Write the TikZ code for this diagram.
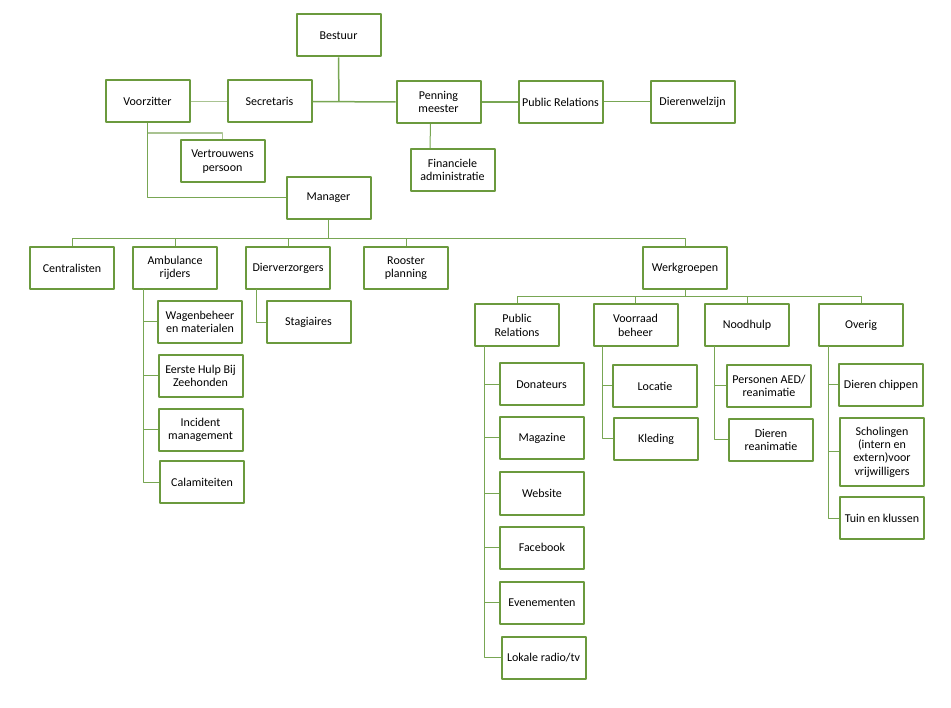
\documentclass[tikz,border=0pt]{standalone}
\usepackage{fontspec}
\setmainfont{Carlito}
\definecolor{boxgreen}{HTML}{6B9A3E}
\definecolor{linegreen}{HTML}{78A653}
\definecolor{palegreen}{HTML}{A9C391}
\begin{document}
\begin{tikzpicture}[x=1pt,y=-1pt,line join=round,font=\fontsize{12}{13.3}\selectfont,
	unit/.style={draw=boxgreen,line width=2pt,fill=white,minimum width=84pt,minimum height=42pt,align=center,inner sep=1pt},
	link/.style={draw=linegreen,line width=1pt},
	palelink/.style={draw=palegreen,line width=1.2pt},
	boldlink/.style={draw=linegreen,line width=1.5pt}]
			\useasboundingbox (0,0) rectangle (951,708);
			\node[unit] (bestuur) at (338.5,35.5) {Bestuur};
			\node[unit] (voorz) at (147.5,101.5) {Voorzitter};
			\node[unit] (secr) at (269.5,101.5) {Secretaris};
			\node[unit] (penning) at (438.5,102) {Penning\\meester};
			\node[unit] (prtop) at (560.5,102) {Public Relations};
			\node[unit] (dierenw) at (692.5,102) {Dierenwelzijn};
			\node[unit] (vertr) at (222.5,161.5) {Vertrouwens\\persoon};
			\node[unit] (finadm) at (452.5,170) {Financiele\\administratie};
			\node[unit] (manager) at (328.5,198) {Manager};
			\node[unit] (centr) at (72,268) {Centralisten};
			\node[unit] (ambu) at (175,268) {Ambulance\\rijders};
			\node[unit] (dierv) at (288,268) {Dierverzorgers};
			\node[unit] (rooster) at (406,268) {Rooster\\planning};
			\node[unit] (werkg) at (685,268.5) {Werkgroepen};
			\node[unit] (wagen) at (200,322) {Wagenbeheer\\en materialen};
			\node[unit] (eerste) at (200.5,376) {Eerste Hulp Bij\\Zeehonden};
			\node[unit] (incid) at (200.5,430) {Incident\\management};
			\node[unit] (calam) at (202,482.5) {Calamiteiten};
			\node[unit] (stag) at (308.5,322.5) {Stagiaires};
			\node[unit] (pr) at (517,325.5) {Public\\Relations};
			\node[unit] (voorr) at (635.5,325.5) {Voorraad\\beheer};
			\node[unit] (noodh) at (747,325.5) {Noodhulp};
			\node[unit] (overig) at (861,325.5) {Overig};
			\node[unit] (donat) at (541.5,384.5) {Donateurs};
			\node[unit] (magaz) at (542,438) {Magazine};
			\node[unit] (websi) at (542,493.5) {Website};
			\node[unit] (faceb) at (542,547.5) {Facebook};
			\node[unit] (evene) at (542,602.5) {Evenementen};
			\node[unit] (lokal) at (543.5,657.5) {Lokale radio/tv};
			\node[unit] (locat) at (655,386) {Locatie};
			\node[unit] (kledi) at (656,439) {Kleding};
			\node[unit] (perso) at (769,386) {Personen AED/\\reanimatie};
			\node[unit] (diere) at (771,440) {Dieren\\reanimatie};
			\node[unit] (chipp) at (881,385) {Dieren chippen};
			\node[unit,minimum height=68pt] (schol) at (882,452) {Scholingen\\(intern en\\extern)voor\\vrijwilligers};
			\node[unit] (tuin) at (882,518) {Tuin en klussen};
			\coordinate (bknot) at (339,102);
			\coordinate (vknot) at (147.5,133);
			\coordinate (mbar) at (328.5,239);
			\coordinate (wbar) at (685,297);
			\coordinate (ambutrunk) at (143,289);
			\coordinate (diervtrunk) at (256,289);
			\coordinate (prtrunk) at (484,346.5);
			\coordinate (voorrtrunk) at (602,346.5);
			\coordinate (noodhtrunk) at (714,346.5);
			\coordinate (overigtrunk) at (828,346.5);
			\draw[boldlink] (bestuur.south) -- (bknot) (secr.east) -- (penning.west);
			\draw[boldlink] (penning.east) -- (prtop.west);
			\draw[link] (prtop.east) -- (dierenw.west);
			\draw[link] ([xshift=-8pt]penning.south) -- ([xshift=-22.5pt]finadm.north);
			\draw[palelink] (voorz.east) -- (secr.west);
			\draw[palelink] (vknot) -| (vertr.north);
			\draw[link] (voorz.south) |- (manager.west);
			\foreach \n in {centr,ambu,dierv,rooster,werkg}
				\draw[link] (manager.south) -- (mbar) -| (\n.north);
			\foreach \n in {wagen,eerste,incid,calam}
				\draw[link] (ambutrunk) |- (\n.west);
			\draw[link] (diervtrunk) |- (stag.west);
			\foreach \n in {pr,voorr,noodh,overig}
				\draw[link] (werkg.south) -- (wbar) -| (\n.north);
			\foreach \n in {donat,magaz,websi,faceb,evene,lokal}
				\draw[link] (prtrunk) |- (\n.west);
			\foreach \n in {locat,kledi}
				\draw[link] (voorrtrunk) |- (\n.west);
			\foreach \n in {perso,diere}
				\draw[link] (noodhtrunk) |- (\n.west);
			\foreach \n in {chipp,schol,tuin}
				\draw[link] (overigtrunk) |- (\n.west);
		\end{tikzpicture}
\end{document}
